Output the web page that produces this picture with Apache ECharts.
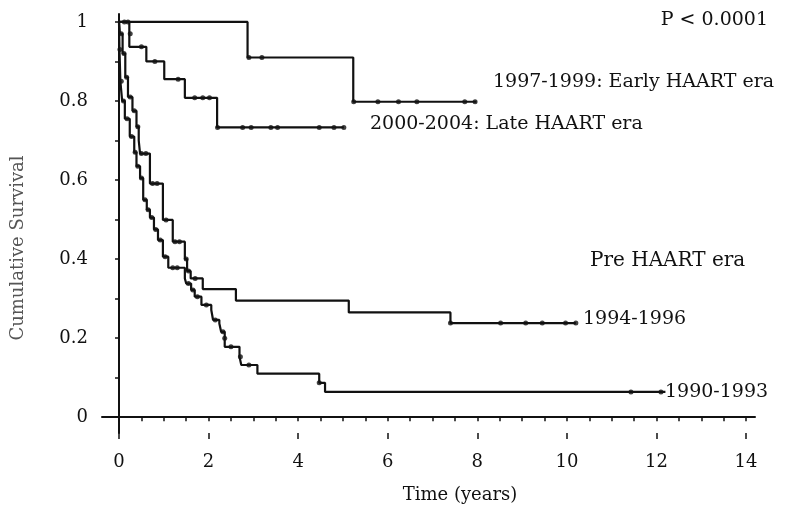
<!DOCTYPE html>
<html><head><meta charset="utf-8">
<script src="https://cdn.jsdelivr.net/npm/echarts@6/dist/echarts.min.js"></script>
<style>html,body{margin:0;padding:0;background:#fff}#c{width:796px;height:511px}</style>
</head><body><div id="c"></div>
<script>
// ---- data (time in years, cumulative survival) ----
const xTickLabels = [0, 2, 4, 6, 8, 10, 12, 14];
const yTickLabels = [0, 0.2, 0.4, 0.6, 0.8, 1];

const early9799 = [[0,1],[2.87,0.91],[5.23,0.798],[7.98,0.798]];
const early9799Censor = [[0.12,1],[0.2,1],[2.9,0.91],[3.19,0.91],[5.24,0.798],[5.78,0.798],[6.24,0.798],[6.65,0.798],[7.72,0.798],[7.95,0.798]];

const late0004 = [[0,1],[0.23,0.937],[0.61,0.90],[1.01,0.855],[1.47,0.808],[2.19,0.733],[5.02,0.733]];
const late0004Censor = [[0.25,0.97],[0.5,0.937],[0.8,0.90],[1.32,0.855],[1.69,0.808],[1.87,0.808],[2.02,0.808],[2.2,0.733],[2.76,0.733],[2.95,0.733],[3.39,0.733],[3.54,0.733],[4.47,0.733],[4.80,0.733],[5.02,0.733]];

const pre9496 = [[0,1],[0.02,0.97],[0.08,0.92],[0.14,0.86],[0.2,0.81],[0.3,0.775],[0.39,0.735],[0.44,0.70],[0.47,0.667],[0.69,0.591],[0.98,0.499],[1.2,0.444],[1.47,0.40],[1.52,0.37],[1.6,0.351],[1.87,0.324],[2.61,0.295],[5.13,0.265],[7.4,0.238],[10.2,0.238]];
const pre9496Censor = [[0.05,0.97],[0.11,0.92],[0.17,0.86],[0.25,0.81],[0.34,0.775],[0.42,0.735],[0.5,0.667],[0.6,0.667],[0.75,0.591],[0.85,0.591],[1.05,0.499],[1.25,0.444],[1.35,0.444],[1.5,0.40],[1.55,0.37],[1.7,0.351],[7.4,0.238],[8.52,0.238],[9.08,0.238],[9.45,0.238],[9.97,0.238],[10.2,0.238]];

const pre9093 = [[0,1],[0.01,0.93],[0.03,0.85],[0.07,0.80],[0.13,0.755],[0.24,0.71],[0.34,0.67],[0.39,0.635],[0.47,0.605],[0.54,0.55],[0.62,0.525],[0.69,0.505],[0.78,0.475],[0.87,0.448],[0.98,0.406],[1.10,0.378],[1.47,0.351],[1.50,0.338],[1.61,0.322],[1.69,0.305],[1.84,0.284],[2.06,0.271],[2.10,0.246],[2.24,0.237],[2.28,0.216],[2.36,0.178],[2.69,0.153],[2.73,0.132],[3.09,0.110],[4.47,0.087],[4.6,0.064],[12.2,0.064]];
const pre9093Censor = [[0.02,0.93],[0.05,0.85],[0.1,0.80],[0.18,0.755],[0.28,0.71],[0.36,0.67],[0.42,0.635],[0.5,0.605],[0.58,0.55],[0.65,0.525],[0.73,0.505],[0.82,0.475],[0.92,0.448],[1.03,0.406],[1.2,0.378],[1.3,0.378],[1.55,0.338],[1.65,0.322],[1.75,0.305],[1.95,0.284],[2.15,0.246],[2.32,0.216],[2.36,0.2],[2.5,0.178],[2.71,0.153],[2.9,0.132],[4.47,0.087],[11.43,0.064],[12.1,0.064]];

// tick positions
const xMinorTicks = []; for (let v = 0; v <= 14; v += 0.5) xMinorTicks.push(v);
const yMinorTicks = [0,0.1,0.2,0.3,0.4,0.5,0.6,0.7,0.8,0.9,1];

const FONT = 'DejaVu Serif';
const INK = '#111';

function km(data){ return {type:'line', step:'end', data:data, showSymbol:false, lineStyle:{color:INK, width:2.2}, itemStyle:{color:INK}, silent:true, z:2}; }
function cens(data){ return {type:'scatter', data:data, symbol:'circle', symbolSize:5, itemStyle:{color:INK}, silent:true, z:3}; }

const chart = echarts.init(document.getElementById('c'), null, {renderer:'canvas'});
chart.setOption({
  animation:false,
  backgroundColor:'#fff',
  grid:{left:102, right:41, top:14, bottom:78},
  xAxis:[{
    type:'value', min:-0.38, max:14.2,
    axisLine:{show:true, lineStyle:{color:INK, width:2}},
    axisTick:{show:true, customValues:xMinorTicks, length:4, lineStyle:{color:INK, width:1.5}},
    axisLabel:{show:true, customValues:xTickLabels, margin:20, fontFamily:FONT, fontSize:18, color:INK},
    splitLine:{show:false}
  },{
    type:'value', min:-0.38, max:14.2, position:'bottom', offset:0,
    axisLine:{show:false},
    axisTick:{show:true, customValues:xTickLabels, length:6, lineStyle:{color:INK, width:1.5}},
    axisLabel:{show:false}, splitLine:{show:false}
  }],
  yAxis:{
    type:'value', min:-0.04, max:1.02,
    axisLine:{show:true, lineStyle:{color:INK, width:2}},
    axisTick:{show:true, customValues:yMinorTicks, length:4, lineStyle:{color:INK, width:1.5}},
    axisLabel:{show:true, customValues:yTickLabels, margin:14, fontFamily:FONT, fontSize:18, color:INK},
    splitLine:{show:false}
  },
  graphic:[
    {type:'text', x:18, y:248, rotation:Math.PI/2, style:{text:'Cumulative Survival', font:'18px "DejaVu Serif"', fill:'#555', align:'center', verticalAlign:'middle'}},
    {type:'text', x:460, y:495, style:{text:'Time (years)', font:'18px "DejaVu Serif"', fill:INK, align:'center', verticalAlign:'middle'}},
    {type:'text', x:768, y:20, style:{text:'P < 0.0001', font:'19px "DejaVu Serif"', fill:INK, align:'right', verticalAlign:'middle'}},
    {type:'text', x:493, y:82, style:{text:'1997-1999: Early HAART era', font:'19px "DejaVu Serif"', fill:INK, align:'left', verticalAlign:'middle'}},
    {type:'text', x:370, y:124, style:{text:'2000-2004: Late HAART era', font:'19px "DejaVu Serif"', fill:INK, align:'left', verticalAlign:'middle'}},
    {type:'text', x:590, y:261, style:{text:'Pre HAART era', font:'20px "DejaVu Serif"', fill:INK, align:'left', verticalAlign:'middle'}},
    {type:'text', x:583, y:319, style:{text:'1994-1996', font:'19px "DejaVu Serif"', fill:INK, align:'left', verticalAlign:'middle'}},
    {type:'text', x:665, y:392, style:{text:'1990-1993', font:'19px "DejaVu Serif"', fill:INK, align:'left', verticalAlign:'middle'}}
  ],
  series:[
    km(early9799), cens(early9799Censor),
    km(late0004), cens(late0004Censor),
    km(pre9496), cens(pre9496Censor),
    km(pre9093), cens(pre9093Censor)
  ]
});
</script></body></html>
